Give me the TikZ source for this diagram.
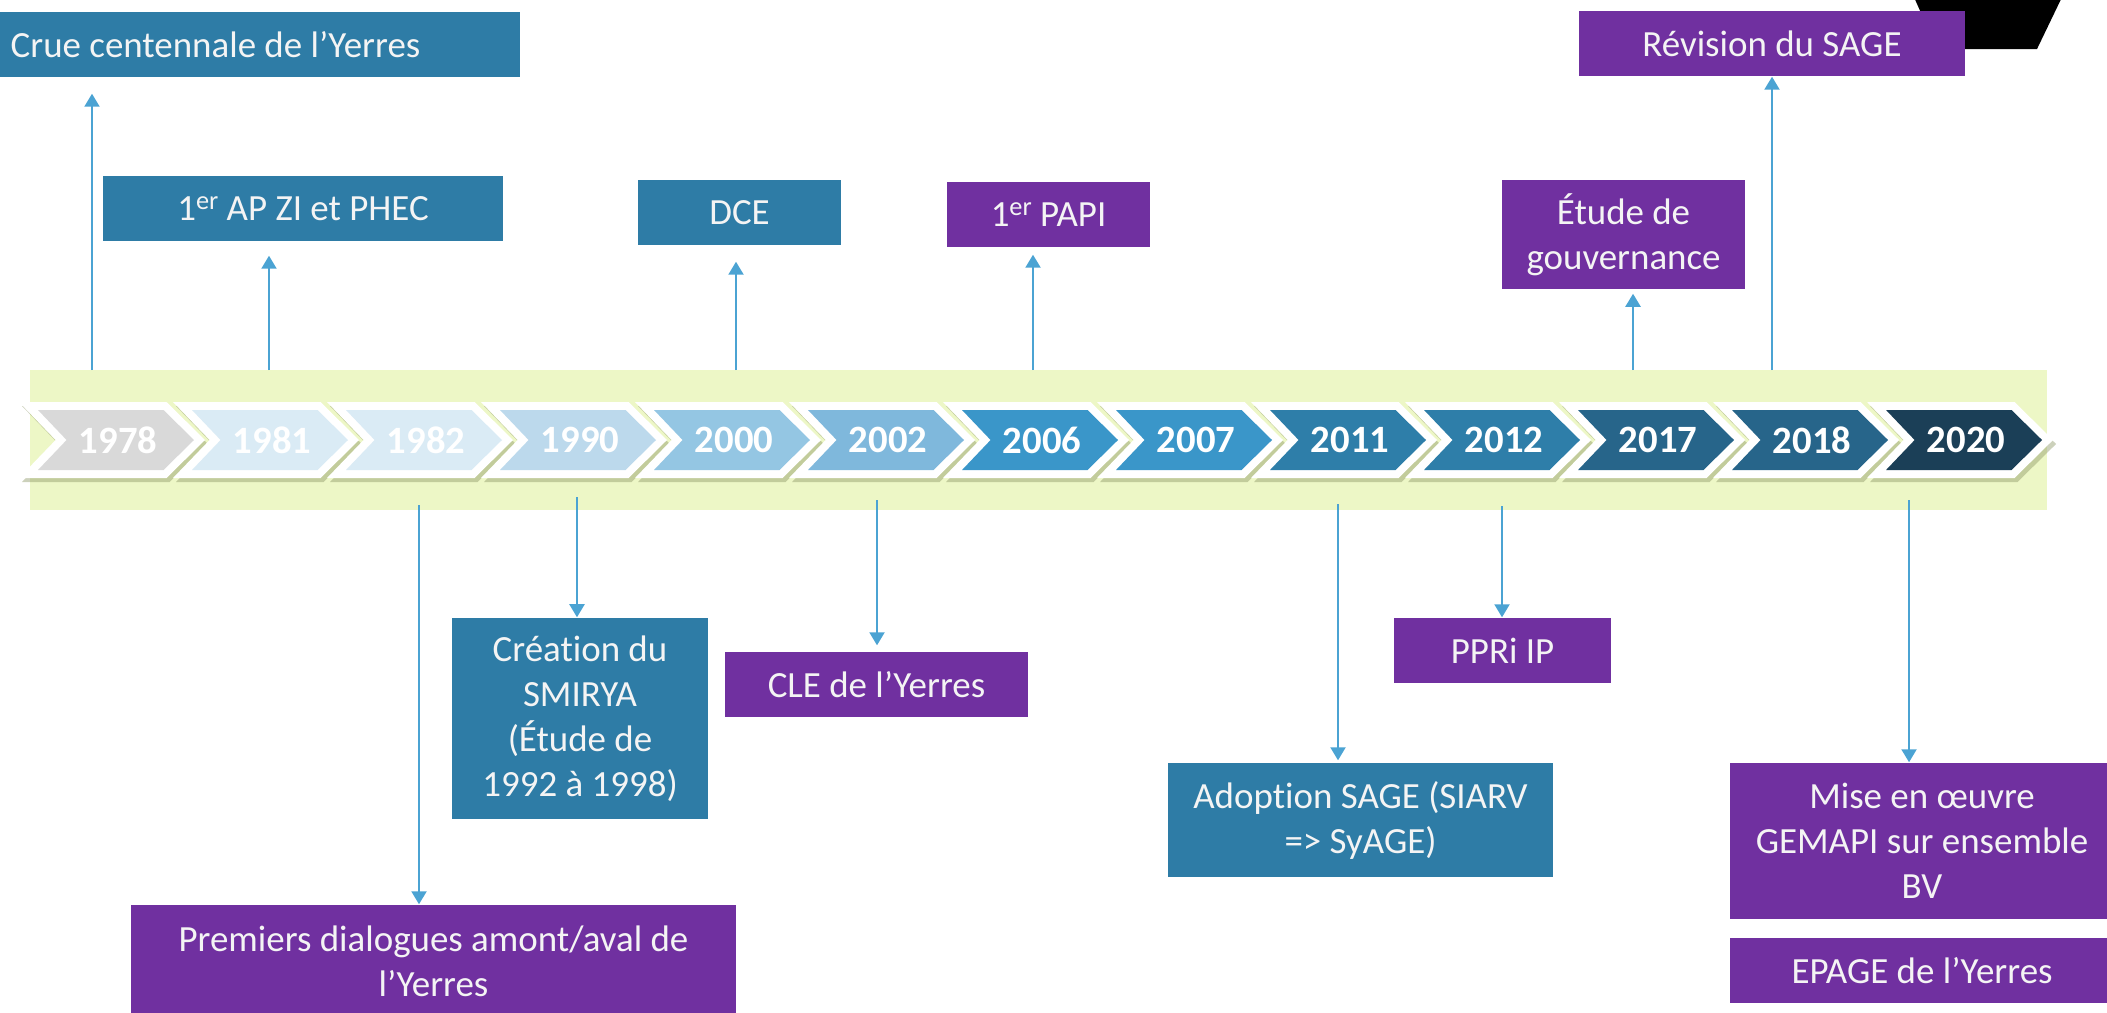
\documentclass[tikz,border=0pt]{standalone}
\usepackage{fontspec}
\setmainfont{Carlito}[Ligatures={TeX,NoCommon,NoContextual}, RawFeature={-liga;-clig;-dlig}]
\usetikzlibrary{arrows.meta}

\definecolor{bandgreen}{HTML}{EDF7C6}
\definecolor{boxteal}{HTML}{2E7CA6}
\definecolor{boxpurple}{HTML}{7030A0}
\definecolor{linkblue}{HTML}{4BA3D3}
\definecolor{shadowolive}{HTML}{8F9868}
\definecolor{txtwhite}{HTML}{F4F4F4}

\newcommand{\ordsup}[1]{\raisebox{3pt}{\fontsize{7.5}{8}\selectfont #1}}

\tikzset{
    tealbox/.style={fill=boxteal, text=txtwhite, inner sep=0pt, align=center,
        font=\fontsize{10.5}{12.8}\selectfont},
    purplebox/.style={tealbox, fill=boxpurple},
    yearlabel/.style={text=white, font=\bfseries\fontsize{11}{13}\selectfont},
    evarrow/.style={draw=linkblue, line width=0.6pt,
        -{Triangle[width=0.15cm,length=0.13cm]}},
}

\begin{document}
\begin{tikzpicture}[x=0.01cm, y=-0.01cm]
    \useasboundingbox (0,0) rectangle (2107,1012);
    % band behind the time line
    \fill[bandgreen] (30,370) rectangle (2047,510);

    % chevrons
    \foreach \yr/\col [count=\i from 0] in {1978/D9D9D9, 1981/DAEBF5, 1982/DAEBF5,
        1990/BCD9EC, 2000/94C6E3, 2002/7FB8DC, 2006/3A96C9, 2007/3A96C9,
        2011/2E7EA9, 2012/2E7EA9, 2017/27658A, 2018/27658A, 2020/1B3F57} {
        \definecolor{chev}{HTML}{\col}
        \pgfmathsetmacro{\L}{38+154*\i}
        \fill[shadowolive, opacity=0.45, shift={(3,4)}] ({\L-19},402) -- ({\L+128.5},402)
            -- ({\L+167},440) -- ({\L+128.5},478) -- ({\L-19},478) -- ({\L+17.6},440) -- cycle;
        \fill[white] ({\L-19},402) -- ({\L+128.5},402) -- ({\L+167},440)
            -- ({\L+128.5},478) -- ({\L-19},478) -- ({\L+17.6},440) -- cycle;
        \fill[chev] (\L,410) -- ({\L+125.5},410) -- ({\L+156},440)
            -- ({\L+125.5},470) -- (\L,470) -- ({\L+28.6},440) -- cycle;
        \node[yearlabel] (y\yr) at ({\L+80},440) {\yr};
    }

    % corner shape
    \fill[black] (1913,-5) -- (2063,-5) -- (2037,49) -- (1937,49) -- cycle;

    % events above
    \node[tealbox, minimum width=5.2cm, minimum height=0.65cm] (crue) at (260,44.5) {};
    \node[text=txtwhite, inner sep=0pt, anchor=west, font=\fontsize{10.5}{12.8}\selectfont] (cruetext) at (10,44.5) {Crue centennale de l’Yerres};
    \node[tealbox, minimum width=4.0cm, minimum height=0.65cm] (ap) at (303,208.5) {1\ordsup{er} AP ZI et PHEC};
    \node[tealbox, minimum width=2.03cm, minimum height=0.65cm] (dce) at (739.5,212.5) {DCE};
    \node[purplebox, minimum width=2.03cm, minimum height=0.65cm] (papi) at (1048.5,214.5) {1\ordsup{er} PAPI};
    \node[purplebox, minimum width=2.43cm, minimum height=1.09cm] (etude) at (1623.5,234.5) {Étude de\\gouvernance};
    \node[purplebox, minimum width=3.86cm, minimum height=0.65cm] (revision) at (1772,43.5) {Révision du SAGE};

    % events below
    \node[purplebox, minimum width=6.05cm, minimum height=1.12cm] (dialog) at (433.5,961) {Premiers dialogues amont/aval de\\l’Yerres};
    \node[tealbox, minimum width=2.56cm, minimum height=2.01cm] (smirya) at (580,718.5) {Création du\\SMIRYA\\(Étude de\\1992 à 1998)};
    \node[purplebox, minimum width=3.03cm, minimum height=0.65cm] (cle) at (876.5,684.5) {CLE de l’Yerres};
    \node[tealbox, minimum width=3.85cm, minimum height=1.14cm] (adoption) at (1360.5,820) {Adoption SAGE (SIARV\\=> SyAGE)};
    \node[purplebox, minimum width=2.17cm, minimum height=0.65cm] (ppri) at (1502.5,650.5) {PPRi IP};
    \node[purplebox, minimum width=3.84cm, minimum height=1.56cm] (mise) at (1922,841) {Mise en œuvre\\GEMAPI sur ensemble\\BV};
    \node[purplebox, minimum width=3.84cm, minimum height=0.65cm] (epage) at (1922,970.5) {EPAGE de l’Yerres};

    % start points on the band
    \coordinate (s1978) at (92,370);
    \coordinate (s1981) at (269,370);
    \coordinate (s2000) at (736,370);
    \coordinate (s2006) at (1033,370);
    \coordinate (s2017) at (1633,370);
    \coordinate (s2018) at (1772,370);
    \coordinate (s1982) at (419,505);
    \coordinate (s1990) at (577,497);
    \coordinate (s2002) at (877,500);
    \coordinate (s2011) at (1338,504);
    \coordinate (s2012) at (1502,506);
    \coordinate (s2020) at (1909,500);

    \draw[evarrow, shorten >=0.16cm] (s1978) -- (s1978 |- crue.south);
    \draw[evarrow, shorten >=0.14cm] (s1981) -- (s1981 |- ap.south);
    \draw[evarrow, shorten >=0.16cm] (s2000) -- (s2000 |- dce.south);
    \draw[evarrow, shorten >=0.07cm] (s2006) -- (s2006 |- papi.south);
    \draw[evarrow, shorten >=0.04cm] (s2017) -- (s2017 |- etude.south);
    \draw[evarrow] (s2018) -- (s2018 |- revision.south);
    \draw[evarrow] (s1982) -- (s1982 |- dialog.north);
    \draw[evarrow] (s1990) -- (s1990 |- smirya.north);
    \draw[evarrow, shorten >=0.06cm] (s2002) -- (s2002 |- cle.north);
    \draw[evarrow, shorten >=0.02cm] (s2011) -- (s2011 |- adoption.north);
    \draw[evarrow] (s2012) -- (s2012 |- ppri.north);
    \draw[evarrow] (s2020) -- (s2020 |- mise.north);
\end{tikzpicture}
\end{document}
